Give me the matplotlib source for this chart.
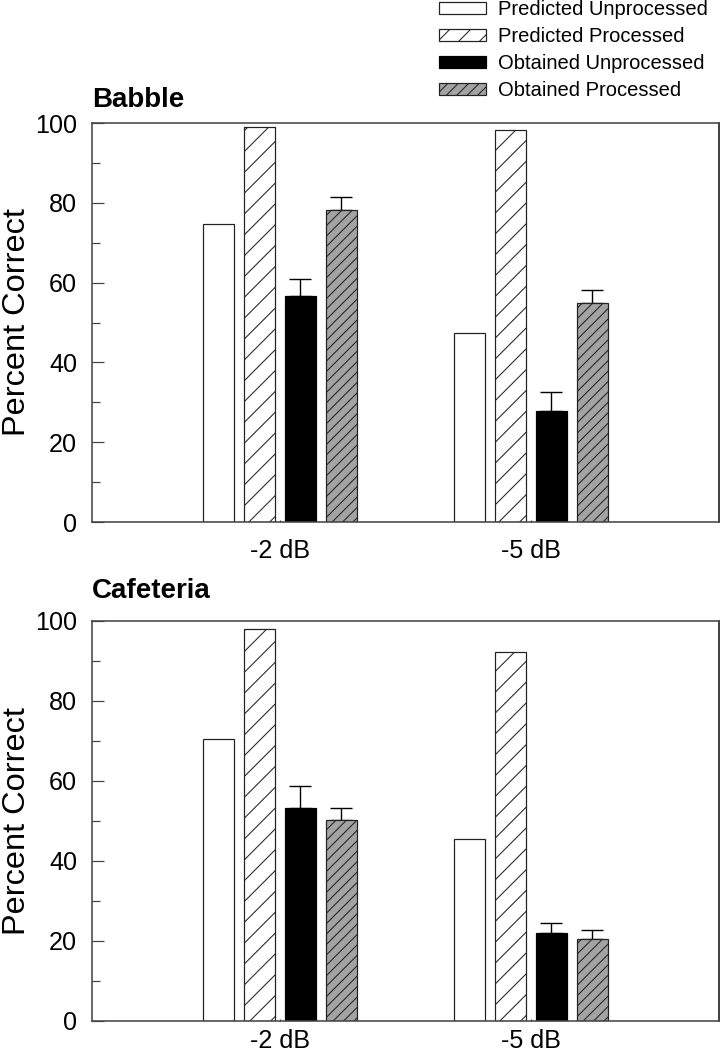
import matplotlib
matplotlib.use("Agg")
import matplotlib.pyplot as plt
import numpy as np
from matplotlib.ticker import MultipleLocator
from matplotlib.patches import Patch

plt.rcParams['font.family'] = ['Liberation Sans', 'DejaVu Sans']
plt.rcParams['hatch.linewidth'] = 0.6

conditions = ["-2 dB", "-5 dB"]
series_names = ["Predicted Unprocessed", "Predicted Processed",
                "Obtained Unprocessed", "Obtained Processed"]
panels = ["Babble", "Cafeteria"]

babble_pred_unproc = [74.7, 47.3]
babble_pred_proc = [99.1, 98.2]
babble_obt_unproc = [56.6, 27.9]
babble_obt_unproc_err = [4.3, 4.8]
babble_obt_proc = [78.2, 54.8]
babble_obt_proc_err = [3.2, 3.3]

cafe_pred_unproc = [70.4, 45.6]
cafe_pred_proc = [98.1, 92.3]
cafe_obt_unproc = [53.3, 22.1]
cafe_obt_unproc_err = [5.4, 2.5]
cafe_obt_proc = [50.2, 20.5]
cafe_obt_proc_err = [3.1, 2.2]

DPI = 125
fig = plt.figure(figsize=(720 / DPI, 1058 / DPI), dpi=DPI)

styles = [
    dict(facecolor="white", edgecolor="#222222", hatch=None),
    dict(facecolor="white", edgecolor="#222222", hatch="//"),
    dict(facecolor="black", edgecolor="black", hatch=None),
    dict(facecolor="#a3a3a3", edgecolor="#222222", hatch="////"),
]

ax_rects = [
    [92 / 720, (1058 - 522) / 1058, 627 / 720, 399 / 1058],
    [92 / 720, (1058 - 1021) / 1058, 627 / 720, 400 / 1058],
]
title_pads = [9.0, 13.0]
xtick_pads = [10.0, 4.8]

data = [
    (babble_pred_unproc, babble_pred_proc, babble_obt_unproc, babble_obt_unproc_err,
     babble_obt_proc, babble_obt_proc_err),
    (cafe_pred_unproc, cafe_pred_proc, cafe_obt_unproc, cafe_obt_unproc_err,
     cafe_obt_proc, cafe_obt_proc_err),
]

x = np.arange(len(conditions))
spacing = 0.1625
width = 0.1235
offsets = [-1.5, -0.5, 0.5, 1.5]

for i, (rect, d) in enumerate(zip(ax_rects, data)):
    ax = fig.add_axes(rect)
    pu, pp, ou, oue, op, ope = d
    vals = [pu, pp, ou, op]
    errs = [None, None, oue, ope]
    for k in range(4):
        st = styles[k]
        ax.bar(x + offsets[k] * spacing, vals[k], width,
               facecolor=st["facecolor"], edgecolor=st["edgecolor"],
               hatch=st["hatch"], linewidth=0.7, zorder=2)
        if errs[k] is not None:
            ax.errorbar(x + offsets[k] * spacing, vals[k],
                        yerr=[np.zeros(len(errs[k])), errs[k]],
                        fmt="none", ecolor="black", elinewidth=0.8,
                        capsize=6.5, capthick=0.8, zorder=1)
    ax.set_xlim(-0.75, 1.75)
    ax.set_ylim(0, 100)
    ax.set_xticks(x)
    ax.set_xticklabels(conditions, fontsize=14.5)
    ax.yaxis.set_major_locator(MultipleLocator(20))
    ax.yaxis.set_minor_locator(MultipleLocator(10))
    ax.tick_params(axis="y", which="major", direction="in", length=6.9,
                   width=0.7, color="#444444", labelsize=14.5, pad=8.5, right=False)
    ax.tick_params(axis="y", which="minor", direction="in", length=4.6,
                   width=0.7, color="#444444", right=False)
    ax.tick_params(axis="x", direction="in", length=1.2, width=0.7,
                   color="#444444", pad=xtick_pads[i])
    for sp in ax.spines.values():
        sp.set_color("#444444")
        sp.set_linewidth(0.9)
    ax.spines["right"].set_color("#111111")
    ax.set_ylabel("Percent Correct", fontsize=18.7)
    ax.yaxis.set_label_coords(-0.0957, 0.5)
    ax.set_title(panels[i], loc="left", fontsize=16, fontweight="bold",
                 pad=title_pads[i])

handles = [Patch(facecolor=s["facecolor"], edgecolor=s["edgecolor"],
                 hatch=s["hatch"], linewidth=0.7) for s in styles]
fig.legend(handles, series_names, loc="upper left",
           bbox_to_anchor=(439 / 720, 1.0), frameon=False, fontsize=11.6,
           borderpad=0.0, borderaxespad=0.0, handlelength=2.35,
           handleheight=0.6, handletextpad=0.6, labelspacing=0.4)

fig.savefig("out.png", dpi=DPI)
